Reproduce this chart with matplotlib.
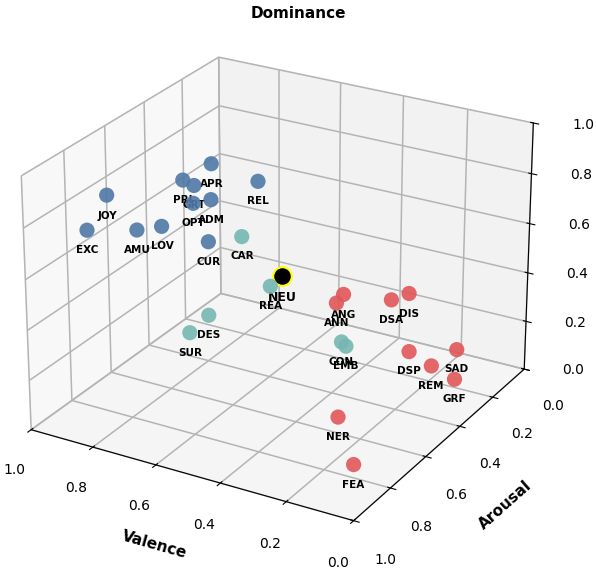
import matplotlib
matplotlib.use("Agg")
import matplotlib.pyplot as plt

plt.rcParams["grid.color"] = "#b4b4b4"
plt.rcParams["grid.linewidth"] = 1.1

# emotion abbreviations and their valence / arousal / dominance
labels = ["ADM", "AMU", "APR", "EXC", "GRT", "JOY", "LOV", "OPT", "PRI", "REL", "CUR",
          "CAR", "CON", "DES", "EMB", "REA", "SUR",
          "ANG", "ANN", "DSP", "DSA", "DIS", "FEA", "GRF", "NER", "REM", "SAD"]
valence = [0.75, 0.78, 0.76, 0.96, 0.86, 0.90, 0.88, 0.77, 0.74, 0.80, 0.68,
           0.67, 0.26, 0.62, 0.23, 0.48, 0.60,
           0.14, 0.26, 0.16, 0.18, 0.07, 0.04, 0.01, 0.12, 0.02, 0.08]
arousal = [0.46, 0.79, 0.44, 0.76, 0.37, 0.75, 0.51, 0.52, 0.62, 0.12, 0.59,
           0.43, 0.60, 0.69, 0.63, 0.60, 0.82,
           0.81, 0.63, 0.40, 0.47, 0.58, 0.93, 0.42, 0.87, 0.54, 0.27]
dominance = [0.71, 0.75, 0.84, 0.68, 0.69, 0.83, 0.59, 0.72, 0.87, 0.60, 0.63,
             0.57, 0.37, 0.41, 0.38, 0.52, 0.42,
             0.71, 0.54, 0.25, 0.49, 0.61, 0.16, 0.20, 0.28, 0.32, 0.21]
groups = ["pos"] * 11 + ["amb"] * 6 + ["neg"] * 10
neutral = (0.5, 0.5, 0.5)

colors = {"pos": "#4E79A7", "amb": "#76B7B2", "neg": "#E15759"}

fig = plt.figure(figsize=(5.96, 5.69), dpi=100)
ax = fig.add_axes([-0.0435, -0.001, 1.009, 1.004], projection="3d")

for g in ["pos", "amb", "neg"]:
    idx = [i for i in range(len(labels)) if groups[i] == g]
    ax.scatter([valence[i] for i in idx], [arousal[i] for i in idx], [dominance[i] for i in idx],
               s=120, c=colors[g], alpha=0.9, depthshade=False, edgecolors="none")
for i in range(len(labels)):
    ax.text(valence[i], arousal[i], dominance[i] - 0.06, labels[i], ha="center", va="top",
            fontsize=7.5, fontweight="bold")

ax.scatter([neutral[0]], [neutral[1]], [neutral[2]], s=180, c="black", edgecolors="yellow",
           linewidths=1.5, depthshade=False)
ax.text(neutral[0], neutral[1], neutral[2] - 0.06, "NEU", ha="center", va="top",
        fontsize=9, fontweight="bold")

ax.set_xlim(0, 1)
ax.set_ylim(0, 1)
ax.set_zlim(0, 1)
ax.tick_params(axis="x", pad=10)
ax.tick_params(axis="y", pad=12)
ax.tick_params(axis="z", pad=14)
ax.set_xlabel("Valence", fontweight="bold", fontsize=11, labelpad=16)
ax.set_ylabel("Arousal", fontweight="bold", fontsize=11, labelpad=20)
fig.text(0.5, 1 - 14 / 569, "Dominance", ha="center", va="center", fontweight="bold", fontsize=11)
ax.view_init(elev=25, azim=120)

plt.savefig("out.png", dpi=100)
